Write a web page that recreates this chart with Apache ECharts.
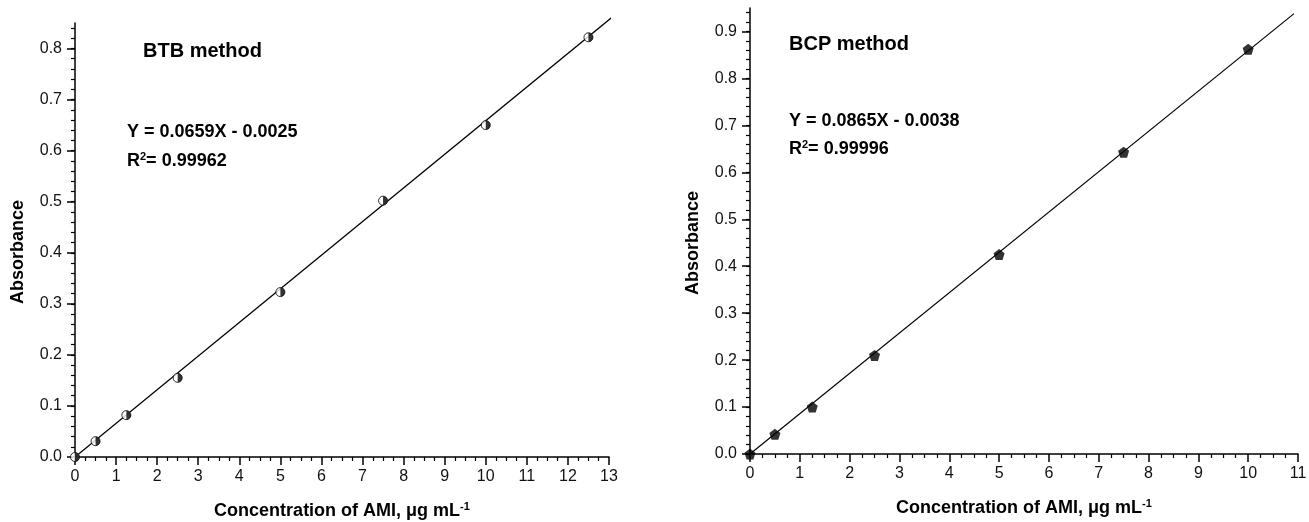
<!DOCTYPE html>
<html>
<head>
<meta charset="utf-8">
<script src="https://cdn.jsdelivr.net/npm/echarts@6/dist/echarts.min.js"></script>
<style>
    html, body { margin: 0; padding: 0; background: #fff; }
    #chart { width: 1309px; height: 522px; }
</style>
</head>
<body>
<div id="chart"></div>
<script>
// BTB method (left panel)
const btbConc = [0, 0.5, 1.25, 2.5, 5, 7.5, 10, 12.5]
const btbAbs = [0, 0.031, 0.082, 0.155, 0.323, 0.502, 0.650, 0.822]
const btbFitX = [0, 13.07]
const btbFitY = [0, 0.861]

// BCP method (right panel)
const bcpConc = [0, 0.5, 1.25, 2.5, 5, 7.5, 10]
const bcpAbs = [0, 0.042, 0.100, 0.210, 0.425, 0.643, 0.862]
const bcpFitX = [0, 10.92]
const bcpFitY = [0, 0.938]

const btbYTicks = [0, 0.1, 0.2, 0.3, 0.4, 0.5, 0.6, 0.7, 0.8]
const bcpYTicks = [0, 0.1, 0.2, 0.3, 0.4, 0.5, 0.6, 0.7, 0.8, 0.9]

const FONT = 'Liberation Sans, Arial, sans-serif'
const HALF_CIRCLE = 'path://M0,0 A10,10 0 0 1 0,20 Z'
const PENTAGON = 'path://M50,0 L97.55,34.55 L79.39,90.45 L20.61,90.45 L2.45,34.55 Z'

function pairs(xs, ys) {
    return xs.map((x, i) => [x, ys[i]])
}

function minorValues(max, step) {
    const out = []
    for (let k = 0; k * step <= max + 1e-9; k++) {
        out.push(Math.round(k * step * 1000) / 1000)
    }
    return out
}

const axisName = {
    fontFamily: FONT,
    color: '#000',
    rich: {
        b: { fontFamily: FONT, fontSize: 18, fontWeight: 'bold', color: '#000' },
        sup: { fontFamily: FONT, fontSize: 11, fontWeight: 'bold', color: '#000', verticalAlign: 'bottom', padding: [0, 0, 9, 0] }
    }
}

function xAxisFor(gridIndex, max) {
    return {
        type: 'value',
        gridIndex,
        min: 0,
        max,
        interval: 1,
        name: '{b|Concentration of AMI, μg mL}{sup|-1}',
        nameLocation: 'middle',
        nameGap: 44,
        nameTextStyle: axisName,
        axisLine: { lineStyle: { color: '#000', width: 1.5 } },
        axisTick: { inside: false, length: 8, lineStyle: { color: '#000', width: 1.5 } },
        minorTick: { show: true, splitNumber: 4, length: 4, lineStyle: { color: '#000', width: 1.2 } },
        axisLabel: { margin: 12, fontFamily: FONT, fontSize: 16, color: '#111' },
        splitLine: { show: false }
    }
}

function yAxisFor(gridIndex, max, ticks) {
    return {
        type: 'value',
        gridIndex,
        min: 0,
        max,
        interval: 0.1,
        name: 'Absorbance',
        nameLocation: 'middle',
        nameGap: 48,
        nameTextStyle: {
            fontFamily: FONT, fontSize: 18, fontWeight: 'bold', color: '#000',
            padding: [0, 24, 0, 0]
        },
        axisLine: { lineStyle: { color: '#000', width: 1.5 } },
        axisTick: { length: 8, customValues: ticks, lineStyle: { color: '#000', width: 1.5 } },
        axisLabel: {
            margin: 13, fontFamily: FONT, fontSize: 16, color: '#111',
            customValues: ticks,
            formatter: v => v.toFixed(1)
        },
        splitLine: { show: false }
    }
}

// second y axis per grid only draws the small ticks every 0.02
function yMinorFor(gridIndex, max) {
    return {
        type: 'value',
        gridIndex,
        position: 'left',
        min: 0,
        max,
        interval: 0.02,
        axisLine: { show: false },
        axisTick: { length: 4, customValues: minorValues(max, 0.02), lineStyle: { color: '#000', width: 1.2 } },
        axisLabel: { show: false },
        splitLine: { show: false }
    }
}

function titleText(text, left, top, size) {
    return {
        text,
        left,
        top,
        padding: 0,
        textStyle: {
            fontFamily: FONT, fontSize: size, fontWeight: 'bold', color: '#000',
            rich: {
                t: { fontFamily: FONT, fontSize: size, fontWeight: 'bold', color: '#000' },
                s: { fontFamily: FONT, fontSize: 11, fontWeight: 'bold', color: '#000', verticalAlign: 'bottom', padding: [0, 0, 9, 0] }
            }
        }
    }
}

const chart = echarts.init(document.getElementById('chart'), null, { renderer: 'canvas' })

chart.setOption({
    backgroundColor: '#fff',
    animation: false,
    title: [
        titleText('BTB method', 143, 41, 20),
        titleText('{t|Y = 0.0659X - 0.0025}', 127, 123, 18),
        titleText('{t|R}{s|2}{t|= 0.99962}', 127, 151, 18),
        titleText('BCP method', 789, 34, 20),
        titleText('{t|Y = 0.0865X - 0.0038}', 789, 112, 18),
        titleText('{t|R}{s|2}{t|= 0.99996}', 789, 139, 18)
    ],
    grid: [
        { left: 75, top: 23, width: 534, height: 434, outerBoundsMode: 'none', containLabel: false },
        { left: 750, top: 8, width: 548, height: 446, outerBoundsMode: 'none', containLabel: false }
    ],
    xAxis: [
        xAxisFor(0, 13),
        xAxisFor(1, 11)
    ],
    yAxis: [
        yAxisFor(0, 0.85, btbYTicks),
        yAxisFor(1, 0.95, bcpYTicks),
        yMinorFor(0, 0.85),
        yMinorFor(1, 0.95)
    ],
    series: [
        {
            type: 'line',
            xAxisIndex: 0,
            yAxisIndex: 0,
            data: pairs(btbFitX, btbFitY),
            symbol: 'none',
            clip: false,
            lineStyle: { color: '#000', width: 1.2 },
            z: 2
        },
        {
            type: 'scatter',
            xAxisIndex: 0,
            yAxisIndex: 0,
            data: pairs(btbConc, btbAbs),
            symbol: 'circle',
            symbolSize: 9,
            itemStyle: { color: '#fff', borderColor: '#000', borderWidth: 1 },
            z: 3
        },
        {
            type: 'scatter',
            xAxisIndex: 0,
            yAxisIndex: 0,
            data: pairs(btbConc, btbAbs),
            symbol: HALF_CIRCLE,
            symbolSize: [4.5, 9],
            symbolOffset: [2.25, 0],
            itemStyle: { color: '#000' },
            z: 4
        },
        {
            type: 'line',
            xAxisIndex: 1,
            yAxisIndex: 1,
            data: pairs(bcpFitX, bcpFitY),
            symbol: 'none',
            clip: false,
            lineStyle: { color: '#000', width: 1.2 },
            z: 2
        },
        {
            type: 'scatter',
            xAxisIndex: 1,
            yAxisIndex: 1,
            data: pairs(bcpConc, bcpAbs),
            symbol: PENTAGON,
            symbolSize: 11,
            itemStyle: { color: '#000' },
            z: 3
        }
    ]
})
</script>
</body>
</html>
